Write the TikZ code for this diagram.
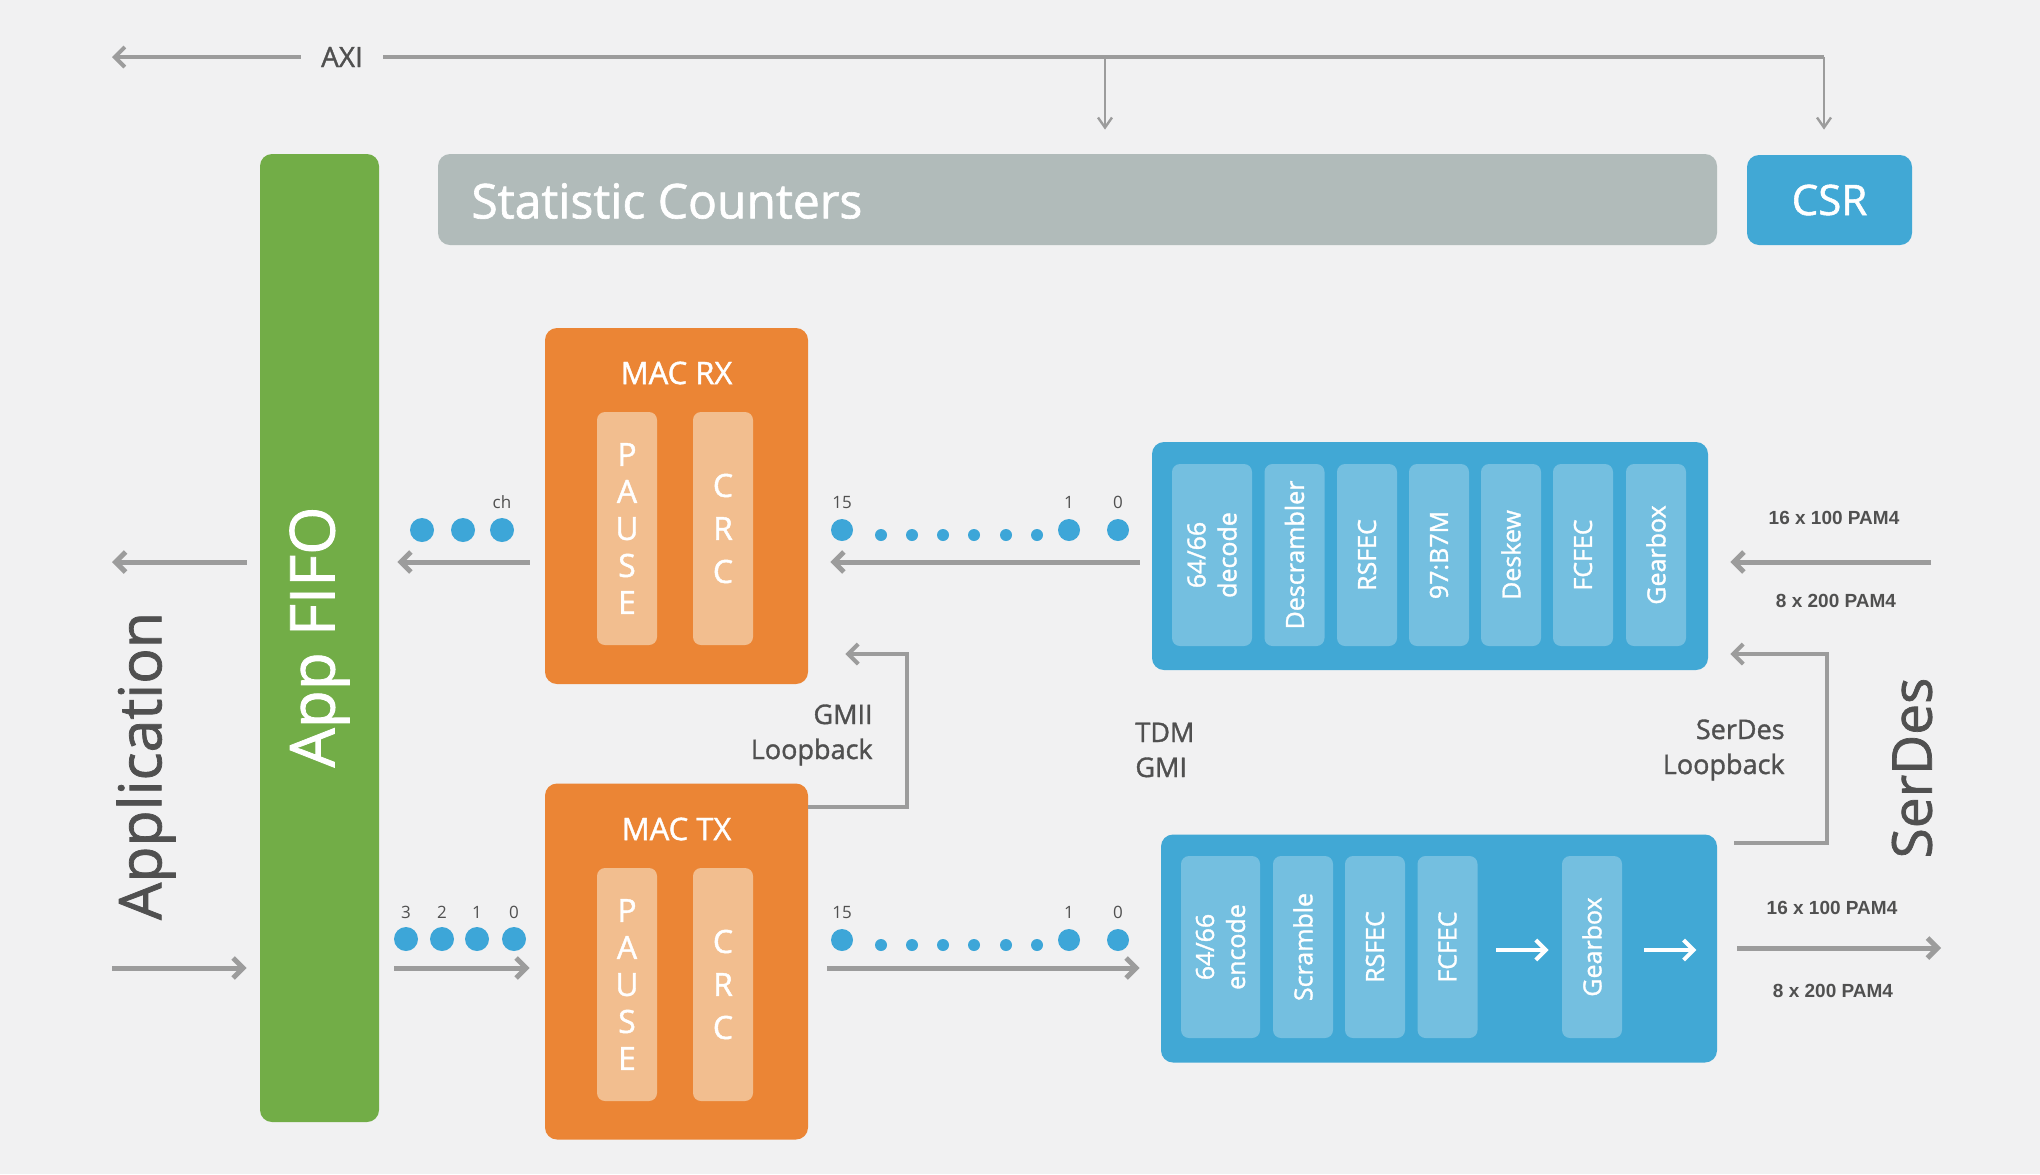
\documentclass[tikz,border=0pt]{standalone}
\usepackage{fontspec}
\setmainfont{Open Sans}
\newfontfamily\medfont[FakeBold=1.3]{Open Sans}
\newfontfamily\pamfont{Liberation Sans}
\usetikzlibrary{arrows.meta, positioning}
\definecolor{bg}{HTML}{F1F1F2}
\definecolor{fifogreen}{HTML}{72AD47}
\definecolor{statgray}{HTML}{B1BBBA}
\definecolor{phyblue}{HTML}{41A8D5}
\definecolor{subblue}{HTML}{74BFE0}
\definecolor{macorange}{HTML}{EB8535}
\definecolor{suborange}{HTML}{F2BE8F}
\definecolor{dotblue}{HTML}{3DA6D8}
\definecolor{linegray}{HTML}{9C9C9C}
\definecolor{txtgray}{HTML}{505050}
\newcommand{\fsz}[2]{\fontsize{#1}{#2}\selectfont}

\begin{document}
\begin{tikzpicture}[x=0.5pt, y=-0.5pt,
    box/.style={rectangle, rounded corners=6pt, inner sep=0pt},
    fifo/.style={box, fill=fifogreen, minimum width=59.5pt, minimum height=484pt},
    statbar/.style={box, fill=statgray, minimum width=639.5pt, minimum height=45.5pt},
    csrbox/.style={box, fill=phyblue, minimum width=82.5pt, minimum height=45pt, text=white, font=\medfont\fsz{21}{25}},
    macbox/.style={box, fill=macorange, minimum width=131.5pt, minimum height=178pt},
    mactitle/.style={text=white, font=\medfont\fsz{15.5}{19}},
    macsub/.style={box, rounded corners=4pt, fill=suborange, minimum width=30pt, minimum height=116.5pt, text=white, align=center},
    phybox/.style={box, fill=phyblue, minimum width=278pt, minimum height=114pt},
    physub/.style={box, rounded corners=4pt, fill=subblue, rotate=90, minimum width=91pt, minimum height=30pt, text=white, align=center, font=\medfont\fsz{12.5}{15.5}},
    bigdot/.style={circle, fill=dotblue, inner sep=0pt, minimum size=11pt},
    appdot/.style={circle, fill=dotblue, inner sep=0pt, minimum size=12pt},
    smalldot/.style={circle, fill=dotblue, inner sep=0pt, minimum size=6pt},
    numlbl/.style={inner sep=0pt, text=txtgray, font=\fsz{8.5}{10}},
    note/.style={inner sep=0pt, text=txtgray, font=\medfont\fsz{13.5}{17.5}},
    pam/.style={inner sep=0pt, text=txtgray, font=\pamfont\bfseries\fsz{9.5}{11}},
    side/.style={inner sep=0pt, text=txtgray, rotate=90},
    conn/.style={draw=linegray, line width=2.5pt, -{Straight Barb[length=5pt, width=10pt]}},
    loopline/.style={draw=linegray, line width=2pt, -{Straight Barb[length=5pt, width=10pt]}},
    axiline/.style={draw=linegray, line width=2pt},
    axidown/.style={draw=linegray, line width=1.2pt, -{Straight Barb[length=5pt, width=7pt]}},
    whitearrow/.style={draw=white, line width=2pt, -{Straight Barb[length=5pt, width=10pt]}}]

    \fill[bg] (0,0) rectangle (2040,1174);
    \useasboundingbox (0,0) rectangle (2040,1174);

    % main blocks
    \node[fifo] (fifo) at (319.5,638) {};
    \node[text=white, rotate=90, font=\medfont\fsz{31}{36}] (fifotxt) at (319.5,637) {App FIFO};
    \node[statbar] (stat) at (1077.5,199.5) {};
    \node[anchor=west, text=white, inner sep=0pt, font=\medfont\fsz{24}{28}] (stattxt) at (471,201) {Statistic Counters};
    \node[csrbox] (csr) at (1829.5,200) {CSR};

    \node[macbox] (macrx) at (676.5,506) {};
    \node[mactitle] (rxtitle) at (676.5,373) {MAC RX};
    \node[macsub, font=\medfont\fsz{16}{18.5}] (rxpause) at (627,528.5) {P\\A\\U\\S\\E};
    \node[macsub, font=\medfont\fsz{16}{21.5}] (rxcrc) at (723,528.5) {C\\R\\C};

    \node[macbox] (mactx) at (676.5,961.5) {};
    \node[mactitle] (txtitle) at (676.5,829) {MAC TX};
    \node[macsub, font=\medfont\fsz{16}{18.5}] (txpause) at (627,984.5) {P\\A\\U\\S\\E};
    \node[macsub, font=\medfont\fsz{16}{21.5}] (txcrc) at (723,984.5) {C\\R\\C};

    \node[phybox] (rxphy) at (1430,556) {};
    \node[physub, minimum height=40pt] (rdec) at (1212,555) {64/66\\decode};
    \node[physub] (rdescr) at (1294.5,555) {Descrambler};
    \node[physub] (rrsfec) at (1367,555) {RSFEC};
    \node[physub] (rconv) at (1439,555) {97:B7M};
    \node[physub] (rdeskew) at (1511,555) {Deskew};
    \node[physub] (rfcfec) at (1583,555) {FCFEC};
    \node[physub] (rgear) at (1656,555) {Gearbox};

    \node[phybox] (txphy) at (1439,948.5) {};
    \node[physub, minimum height=39.5pt] (tenc) at (1220.5,947) {64/66\\encode};
    \node[physub] (tscr) at (1303,947) {Scramble};
    \node[physub] (trsfec) at (1375,947) {RSFEC};
    \node[physub] (tfcfec) at (1447.5,947) {FCFEC};
    \node[physub] (tgear) at (1592,947) {Gearbox};

    % side texts
    \node[side, font=\medfont\fsz{29.5}{34}] (app) at (146,766) {Application};
    \node[side, font=\medfont\fsz{27.5}{32}] (serdes) at (1912,768) {SerDes};
    \node[inner xsep=10pt, inner ysep=0pt, text=txtgray, font=\medfont\fsz{14}{17}] (axi) at (342,57) {AXI};

    % channel dots
    \node[appdot] (rxa1) at (422,530) {};
    \node[appdot] (rxa2) at (463,530) {};
    \node[appdot] (rxa3) at (502,530) {};
    \node[numlbl, above=4.5pt of rxa3] (lch) {ch};

    \node[appdot] (txa3) at (406,939) {};
    \node[appdot] (txa2) at (442,939) {};
    \node[appdot] (txa1) at (477,939) {};
    \node[appdot] (txa0) at (514,939) {};
    \node[numlbl, above=4pt of txa3] (l3) {3};
    \node[numlbl, above=4pt of txa2] (l2) {2};
    \node[numlbl, above=4pt of txa1] (l1) {1};
    \node[numlbl, above=4pt of txa0] (l0) {0};

    \node[bigdot] (rx15) at (842,530) {};
    \node[smalldot] (rxs1) at (881,535) {};
    \node[smalldot] (rxs2) at (912,535) {};
    \node[smalldot] (rxs3) at (943,535) {};
    \node[smalldot] (rxs4) at (974,535) {};
    \node[smalldot] (rxs5) at (1006,535) {};
    \node[smalldot] (rxs6) at (1037,535) {};
    \node[bigdot] (rx1) at (1069,530) {};
    \node[bigdot] (rx0) at (1118,530) {};
    \node[numlbl, above=5pt of rx15] (lr15) {15};
    \node[numlbl, above=5pt of rx1] (lr1) {1};
    \node[numlbl, above=5pt of rx0] (lr0) {0};

    \node[bigdot] (tx15) at (842,940) {};
    \node[smalldot] (txs1) at (881,945) {};
    \node[smalldot] (txs2) at (912,945) {};
    \node[smalldot] (txs3) at (943,945) {};
    \node[smalldot] (txs4) at (974,945) {};
    \node[smalldot] (txs5) at (1006,945) {};
    \node[smalldot] (txs6) at (1037,945) {};
    \node[bigdot] (tx1) at (1069,940) {};
    \node[bigdot] (tx0) at (1118,940) {};
    \node[numlbl, above=5pt of tx15] (lt15) {15};
    \node[numlbl, above=5pt of tx1] (lt1) {1};
    \node[numlbl, above=5pt of tx0] (lt0) {0};

    % notes
    \node[note, align=right, anchor=east] (gmiitxt) at (873,735) {GMII\\Loopback};
    \node[note, align=left, anchor=west] (tdmtxt) at (1135,750) {TDM\\GMI};
    \node[note, align=right, anchor=east] (sdltxt) at (1785,750) {SerDes\\Loopback};
    \node[pam] (pamin1) at (1834,518) {16 x 100 PAM4};
    \node[pam] (pamin2) at (1836,601) {8 x 200 PAM4};
    \node[pam] (pamout1) at (1832,908) {16 x 100 PAM4};
    \node[pam] (pamout2) at (1833,991) {8 x 200 PAM4};

    % free ends
    \coordinate (axiw) at (112,57);
    \coordinate (axie) at (1824,57);
    \coordinate (tap) at (1105,57);
    \coordinate (appl) at (112,562);
    \coordinate (appr) at (112,968);
    \coordinate (gmii) at (907,654);
    \coordinate (sdl) at (1827,654);
    \coordinate (serin) at (1931,562);
    \coordinate (serout) at (1941,948);

    % connectors
    \draw[axiline, -{Straight Barb[length=5pt, width=10pt]}] (axi.west) -- (axiw);
    \draw[axiline] (axi.east) -- (axie);
    \draw[axidown, shorten >=12pt] (tap) -- (tap |- stat.north);
    \draw[axidown, shorten >=12.5pt] (axie) -- (axie |- csr.north);

    \draw[conn, shorten <=6.5pt] (appl -| fifo.west) -- (appl);
    \draw[conn, shorten >=6.5pt] (appr) -- (appr -| fifo.west);

    \draw[conn, shorten <=7.5pt, shorten >=9pt] ([yshift=-28pt]macrx.west) -- ([yshift=-28pt]macrx.west -| fifo.east);
    \draw[conn, shorten <=7.5pt, shorten >=7.5pt] ([yshift=-3.25pt]mactx.west -| fifo.east) -- ([yshift=-3.25pt]mactx.west);

    \draw[conn, shorten <=6pt, shorten >=11pt] ([yshift=-3pt]rxphy.west) -- ([yshift=-3pt]rxphy.west -| macrx.east);
    \draw[conn, shorten <=9.5pt, shorten >=10.5pt] ([yshift=-3.25pt]mactx.east) -- ([yshift=-3.25pt]mactx.east -| txphy.west);

    \draw[loopline, shorten >=18.5pt] ([yshift=-12pt]mactx.north east) -| (gmii) -- (gmii -| macrx.east);
    \draw[loopline, shorten <=8.5pt, shorten >=11pt] ([yshift=-4.5pt]txphy.north east) -| (sdl) -- (sdl -| rxphy.east);

    \draw[conn, shorten >=11pt] (serin) -- (serin -| rxphy.east);
    \draw[conn, shorten <=10pt] (serout -| txphy.east) -- (serout);

    \draw[whitearrow, shorten <=9pt, shorten >=6.5pt] ([yshift=-1.5pt]tfcfec.south) -- ([yshift=-1.5pt]tgear.north);
    \draw[whitearrow, shorten <=11pt, shorten >=10.5pt] ([yshift=-1.5pt]tgear.south) -- ([yshift=-1.5pt]tgear.south -| txphy.east);

\end{tikzpicture}
\end{document}
